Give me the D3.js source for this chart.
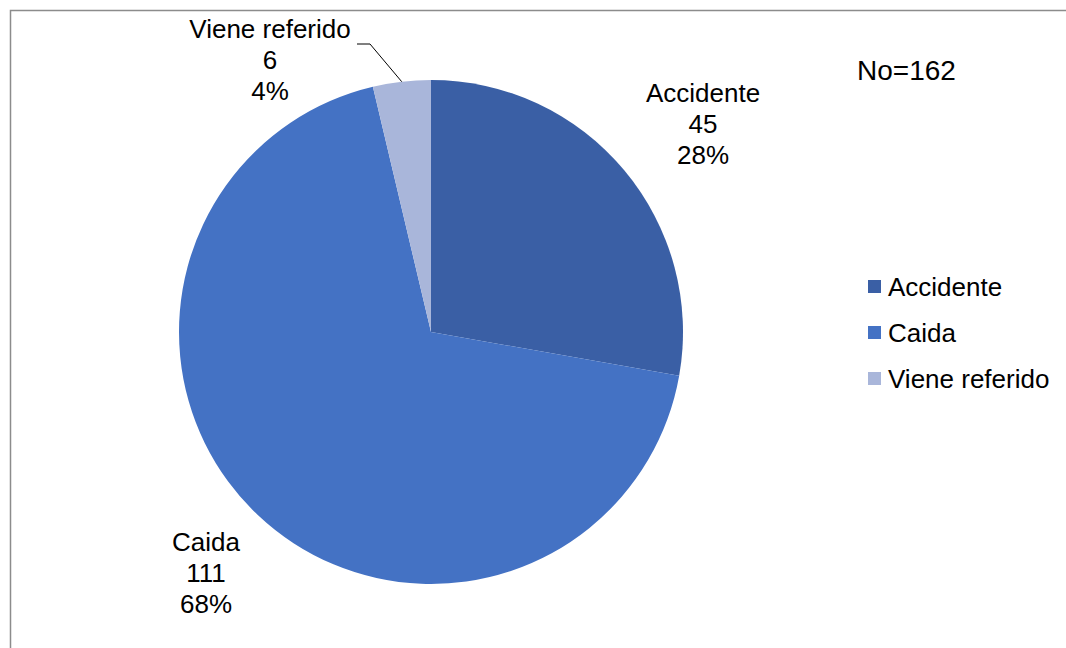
<!DOCTYPE html>
<html>
<head>
<meta charset="utf-8">
<script src="https://cdn.jsdelivr.net/npm/d3@7"></script>
<style>
  body { margin: 0; background: #fff; }
  svg text { font-family: "Liberation Sans", Arial, sans-serif; fill: #000; }
</style>
</head>
<body>
<svg id="chart" width="1066" height="648"></svg>
<script>
// datos
const categories = ['Accidente', 'Caida', 'Viene referido'];
const counts = [45, 111, 6];
const percents = ['28%', '68%', '4%'];
const colors = ['#3A5FA5', '#4472C4', '#A9B6DA'];
const totalLabel = 'No=162';

const svg = d3.select('#chart');
const cx = 431, cy = 332, r = 252;

// marco
svg.append('path')
  .attr('d', 'M10.5,648 L10.5,10.5 L1066,10.5')
  .attr('fill', 'none')
  .attr('stroke', '#8c8c8c')
  .attr('stroke-width', 1.5);

const pie = d3.pie().sort(null).value(d => d)(counts);
const arc = d3.arc().innerRadius(0).outerRadius(r);

const g = svg.append('g').attr('transform', `translate(${cx},${cy})`);
g.selectAll('path').data(pie).enter().append('path')
  .attr('d', arc)
  .attr('fill', (d, i) => colors[i]);

// etiquetas
const labelPos = [
  {x: 703, y: 102},
  {x: 206, y: 551},
  {x: 270, y: 38}
];
pie.forEach(function (d, i) {
  let t = svg.append('text')
    .attr('text-anchor', 'middle')
    .attr('font-size', 26)
    .attr('x', labelPos[i].x)
    .attr('y', labelPos[i].y);
  [categories[i], counts[i], percents[i]].forEach(function (s, k) {
    t.append('tspan').attr('x', labelPos[i].x).attr('dy', k === 0 ? 0 : 31).text(s);
  });
});

// linea guia de "Viene referido"
const vr = pie[2];
const mid = (vr.startAngle + vr.endAngle) / 2;
const px = cx + r * Math.sin(mid), py = cy - r * Math.cos(mid);
svg.append('polyline')
  .attr('points', `357,44 370,44 ${px},${py}`)
  .attr('fill', 'none')
  .attr('stroke', '#000')
  .attr('stroke-width', 1);

// No=162
svg.append('text')
  .attr('x', 857).attr('y', 80)
  .attr('font-size', 28)
  .text(totalLabel);

// leyenda
const legend = svg.append('g').attr('transform', 'translate(868,286.5)');
categories.forEach(function (c, i) {
  let row = legend.append('g').attr('transform', `translate(0,${i * 46})`);
  row.append('rect').attr('x', 0).attr('y', -6.5).attr('width', 13).attr('height', 13).attr('fill', colors[i]);
  row.append('text').attr('x', 20).attr('y', 9.5).attr('font-size', 26).text(c);
});
</script>
</body>
</html>
